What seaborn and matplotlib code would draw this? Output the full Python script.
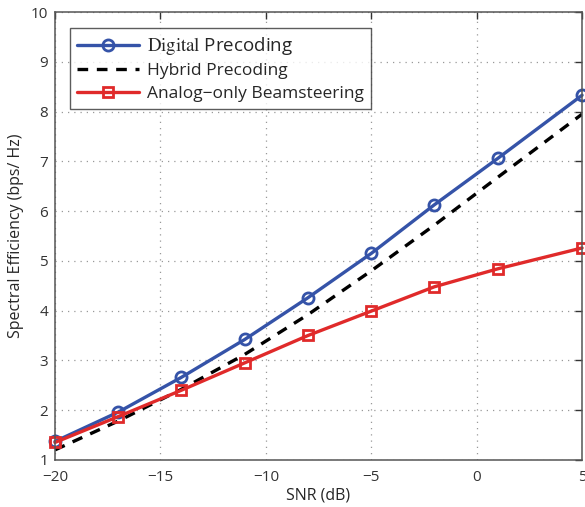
import matplotlib
matplotlib.use("Agg")
import matplotlib.pyplot as plt
import seaborn as sns
import pandas as pd

# values
snr = [-20, -17, -14, -11, -8, -5, -2, 1, 5]
digital = [1.37, 1.96, 2.66, 3.42, 4.26, 5.15, 6.13, 7.06, 8.33]
hybrid = [1.2, 1.78, 2.42, 3.12, 3.92, 4.8, 5.72, 6.68, 7.95]
analog = [1.35, 1.87, 2.4, 2.95, 3.5, 3.99, 4.48, 4.84, 5.26]

x_ticks = [-20, -15, -10, -5, 0, 5]
y_ticks = list(range(1, 11))

sns.set_style("white")
plt.rcParams["font.family"] = ["Open Sans", "DejaVu Sans"]
plt.rcParams["mathtext.fontset"] = "stix"

fig = plt.figure(figsize=(5.85, 5.07), dpi=100)
ax = fig.add_axes([0.094, 0.093, 0.901, 0.883])

df = pd.DataFrame({"snr": snr, "digital": digital, "hybrid": hybrid, "analog": analog})

sns.lineplot(data=df, x="snr", y="digital", ax=ax, color="#3553a8", lw=2.4,
             marker="o", markersize=8, markerfacecolor="none", markeredgecolor="#3553a8",
             markeredgewidth=2, label=r"$\mathrm{Digital}$ Precoding", clip_on=False)
sns.lineplot(data=df, x="snr", y="hybrid", ax=ax, color="black", lw=2.4,
             label="Hybrid Precoding")
ax.lines[-1].set_linestyle((0, (3.2, 2.6)))
sns.lineplot(data=df, x="snr", y="analog", ax=ax, color="#e02a2a", lw=2.4,
             marker="s", markersize=7, markerfacecolor="none", markeredgecolor="#e02a2a",
             markeredgewidth=2, label="Analog\u2212only Beamsteering", clip_on=False)

ax.set_xlim(-20, 5)
ax.set_ylim(1, 10)
ax.set_xticks(x_ticks)
ax.set_yticks(y_ticks)
ax.set_xticklabels([str(t).replace("-", "\u2212") for t in x_ticks])
ax.set_xlabel("SNR (dB)", fontsize=11.5, labelpad=2)
ax.set_ylabel("Spectral Efficiency (bps/ Hz)", fontsize=11.5, labelpad=5)
ax.tick_params(direction="in", length=5, width=1, top=True, right=True,
               labelsize=11, colors="#333333")
ax.tick_params(axis="x", pad=7)
ax.tick_params(axis="y", pad=5)
ax.grid(True, linestyle=(0, (1, 4)), color="#999999", lw=0.9)
for s in ax.spines.values():
    s.set_color("#555555")
    s.set_linewidth(1.1)

leg = ax.legend(loc="upper left", bbox_to_anchor=(0.028, 0.964), borderaxespad=0,
                fontsize=12.5, frameon=True, fancybox=False, edgecolor="#333333",
                handlelength=3.6, borderpad=0.4, labelspacing=0.35, handletextpad=0.45)
leg.get_frame().set_linewidth(1.0)
leg.get_texts()[0].set_fontsize(13.5)

fig.savefig("out.png", dpi=100)
